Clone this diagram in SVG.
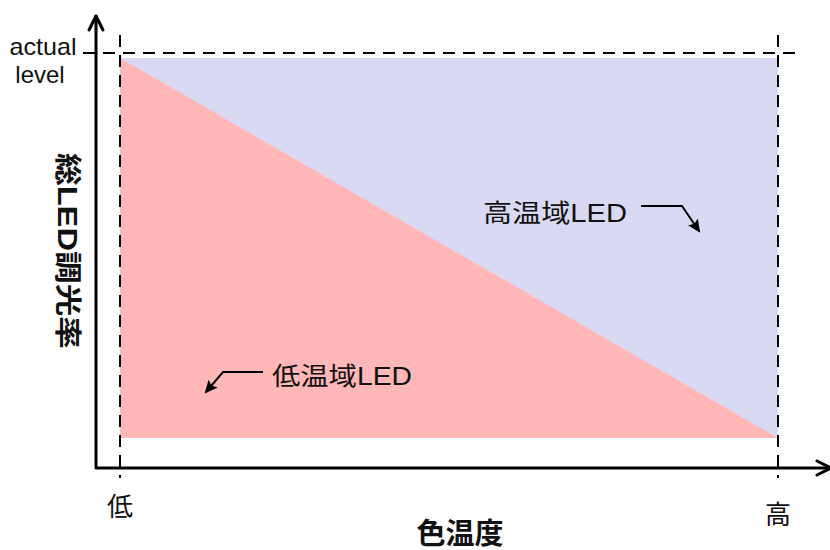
<svg xmlns="http://www.w3.org/2000/svg" width="830" height="550" viewBox="0 0 830 550">
<style>
.t{font-family:"Liberation Sans","Noto Sans CJK JP",sans-serif;fill:#111}
.b{font-weight:bold}
.ax{fill:none;stroke:#000;stroke-width:3;stroke-linejoin:round;stroke-linecap:round}
.ds{fill:none;stroke:#000;stroke-width:2;stroke-dasharray:12 8}
.ln{fill:none;stroke:#000;stroke-width:2}
</style>
<defs>
<marker id="ah" markerWidth="13" markerHeight="12" refX="11" refY="6" orient="auto" markerUnits="userSpaceOnUse" viewBox="0 0 13 12">
<path d="M0,0 L13,6 L0,12 L2.5,6 Z" fill="#000"/>
</marker>
</defs>
<g id="areas">
<rect x="120" y="58" width="658" height="380" fill="#D9D9F3"/>
<polygon points="120,58 120,438 778,438" fill="#FFB7B7"/>
</g>
<g id="axes">
<path class="ax" d="M96,16 L96,468 L830,468"/>
<path class="ax" d="M89,30 L96,16 L103,30"/>
<path class="ax" d="M817,461 L831,468 L817,475"/>
</g>
<g id="guides">
<line class="ds" x1="83" y1="53" x2="800" y2="53"/>
<line class="ds" x1="120" y1="35" x2="120" y2="478"/>
<line class="ds" x1="778" y1="35" x2="778" y2="478"/>
</g>
<g id="connectors">
<path class="ln" d="M641,206 L682,206 L699,231" marker-end="url(#ah)"/>
<path class="ln" d="M263,372 L223,372 L206,392" marker-end="url(#ah)"/>
</g>
<g id="labels">
<text class="t" x="43" y="55" font-size="24" text-anchor="middle" textLength="67" lengthAdjust="spacingAndGlyphs">actual</text>
<text class="t" x="40" y="83" font-size="24" text-anchor="middle">level</text>
<text class="t b" transform="translate(58,251) rotate(90)" font-size="27" text-anchor="middle" textLength="196" lengthAdjust="spacingAndGlyphs">総LED調光率</text>
<text class="t" x="120" y="516" font-size="26" text-anchor="middle">低</text>
<text class="t" x="778" y="524" font-size="26" text-anchor="middle">高</text>
<text class="t b" x="460" y="544" font-size="29" text-anchor="middle">色温度</text>
</g>
<g id="node-high">
<text class="t" x="483" y="222" font-size="25" textLength="144" lengthAdjust="spacingAndGlyphs">高温域LED</text>
</g>
<g id="node-low">
<text class="t" x="272" y="385" font-size="25" textLength="140" lengthAdjust="spacingAndGlyphs">低温域LED</text>
</g>
</svg>
